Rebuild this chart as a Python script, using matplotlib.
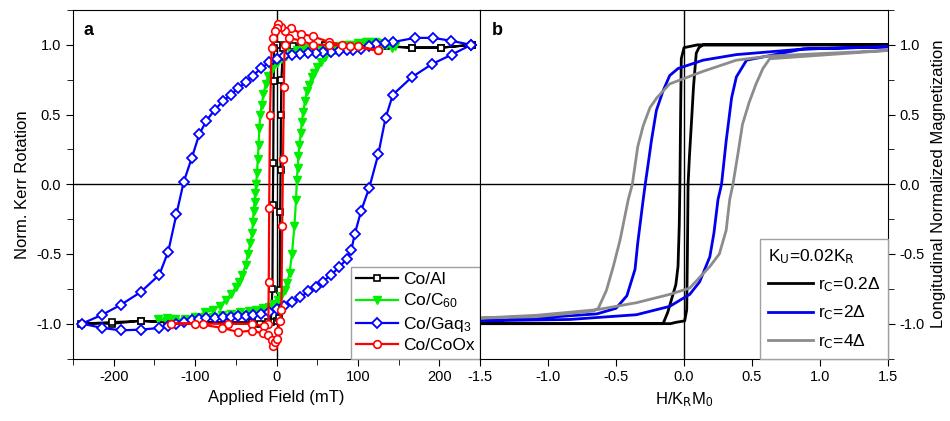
import matplotlib.pyplot as plt
from matplotlib.ticker import MultipleLocator

plt.rcParams['font.family'] = ['Liberation Sans', 'DejaVu Sans']
plt.rcParams['mathtext.default'] = 'regular'
plt.rcParams['axes.unicode_minus'] = False

# ---- panel a: measured loops (field in mT, normalized Kerr rotation) ----
al_H = [240, 202, 167, 130, 95, 60, 30, 10, 0, -3, -3.5, -4, -4.5, -5, -7, -20, -60, -100, -135, -167, -202, -240,
        -202, -167, -130, -95, -60, -30, -10, 0, 3, 4, 4.5, 5, 5.5, 6, 8, 20, 60, 100, 135, 167, 202, 240]
al_M = [1.0, 0.98, 0.98, 0.99, 0.99, 0.99, 0.99, 1.0, 1.0, 0.98, 0.74, 0.15, -0.15, -0.75, -0.99, -1.0, -1.0, -0.99, -0.99, -0.98, -1.0, -1.0,
        -0.99, -0.98, -0.99, -0.99, -0.99, -0.99, -0.99, -0.98, -0.96, -0.76, -0.2, 0.1, 0.5, 0.75, 0.98, 0.99, 1.0, 1.0, 0.99, 0.98, 0.98, 1.0]

c60_H = [145, 135, 125, 115, 105, 95, 85, 75, 65, 55, 45, 35, 25, 18, 12, 6, 0, -5, -10, -13, -16, -18, -20, -21, -22, -23,
         -24, -25, -26, -27, -28, -29, -30, -32, -35, -38, -42, -46, -50, -56, -62, -70, -78, -88, -100, -113, -125, -135, -145,
         -135, -125, -113, -100, -88, -78, -67, -56, -45, -34, -25, -17, -9, -3, 2, 6, 10, 13, 16, 19, 22, 24, 25, 26,
         27, 28, 30, 31, 33, 35, 37.5, 40, 43, 46, 50, 55, 60, 66, 72, 80, 89, 100, 110, 121, 131, 142]
c60_M = [0.99, 1.0, 1.01, 1.02, 1.0, 1.0, 1.0, 0.99, 0.99, 0.98, 0.98, 0.97, 0.96, 0.94, 0.92, 0.9, 0.87, 0.83, 0.78, 0.72, 0.65, 0.57, 0.5, 0.4, 0.28, 0.18,
         0.08, 0.0, -0.06, -0.13, -0.19, -0.27, -0.35, -0.42, -0.5, -0.58, -0.65, -0.7, -0.74, -0.79, -0.83, -0.87, -0.9, -0.92, -0.95, -0.97, -0.97, -0.96, -0.97,
         -0.98, -0.99, -0.98, -0.97, -0.96, -0.95, -0.94, -0.93, -0.92, -0.91, -0.9, -0.89, -0.88, -0.86, -0.83, -0.8, -0.76, -0.71, -0.64, -0.5, -0.3, -0.11, 0.03, 0.12,
         0.2, 0.28, 0.37, 0.45, 0.52, 0.6, 0.67, 0.71, 0.77, 0.8, 0.84, 0.88, 0.91, 0.94, 0.96, 0.98, 1.0, 1.01, 1.02, 1.02, 1.0, 0.98]

gaq_H = [239, 214, 192, 170, 143, 133, 122, 114, 104, 94, 86, 77, 67, 57, 48, 39, 29, 19, 9, 0,
         -9, -19, -29, -38, -47, -56, -66, -76, -86, -95, -104, -114, -123, -133, -144, -167, -191, -214, -239,
         -214, -191, -167, -144, -133, -123, -114, -104, -95, -86, -76, -66, -56, -47, -38, -29, -19, -9, 0,
         9, 19, 29, 39, 48, 57, 67, 77, 86, 92, 96, 104, 114, 125, 134, 143, 166, 191, 215, 239]
gaq_M = [1.0, 1.03, 1.05, 1.05, 1.02, 1.01, 1.005, 0.99, 0.97, 0.964, 0.962, 0.957, 0.952, 0.95, 0.945, 0.94, 0.933, 0.926, 0.917, 0.898,
         0.874, 0.831, 0.779, 0.731, 0.69, 0.643, 0.595, 0.533, 0.457, 0.357, 0.19, 0.017, -0.217, -0.483, -0.65, -0.774, -0.864, -0.936, -1.0,
         -1.031, -1.048, -1.043, -1.031, -1.014, -1.0, -0.99, -0.976, -0.967, -0.96, -0.96, -0.955, -0.952, -0.948, -0.943, -0.94, -0.93, -0.917, -0.895,
         -0.876, -0.848, -0.812, -0.769, -0.738, -0.698, -0.65, -0.595, -0.538, -0.47, -0.36, -0.19, -0.024, 0.214, 0.476, 0.643, 0.767, 0.862, 0.929, 1.0]

coox_H = [125, 100, 80, 65, 45, 30, 18, 10, 5, 2, 0, -2, -4, -6, -8, -9, -9.5, -10, -15, -30, -60, -90, -130,
          -100, -67, -47, -30, -17, -10, -6, -4, -2, 0, 2, 4, 6, 7, 8, 9, 10, 15, 30, 45, 65, 90, 125]
coox_M = [0.96, 0.99, 1.0, 1.02, 1.06, 1.08, 1.12, 1.1, 1.13, 1.15, 1.12, 1.1, 1.05, 0.98, 0.5, -0.17, -0.7, -1.0, -1.02, -1.0, -1.0, -1.0, -1.0,
          -1.0, -1.03, -1.06, -1.05, -1.07, -1.08, -1.12, -1.16, -1.13, -1.11, -1.05, -0.98, -0.9, -0.3, 0.18, 0.7, 1.0, 1.05, 1.03, 1.0, 1.0, 0.99, 0.96]

# ---- panel b: simulated loops (H/KrM0, longitudinal magnetization) ----
r02_H = [1.5, 0.5, 0.14, 0.11, 0.09, 0.07, 0.054, 0.04, 0.03, 0.025, 0.02, 0.005, -0.056, -0.1, -0.5, -1.5,
         -0.5, -0.154, -0.12, -0.06, -0.044, -0.035, -0.03, -0.025, -0.02, 0.0, 0.1, 0.5, 1.5]
r02_M = [1.0, 1.0, 1.0, 0.98, 0.94, 0.7, 0.43, 0.2, 0.0, -0.5, -0.9, -0.98, -0.99, -1.0, -1.0, -1.0,
         -1.0, -1.0, -0.92, -0.72, -0.59, -0.3, 0.0, 0.5, 0.9, 0.98, 1.0, 1.0, 1.0]

r2_H = [1.5, 0.875, 0.46, 0.385, 0.35, 0.31, 0.276, 0.25, 0.22, 0.19, 0.115, 0.042, -0.105, -0.35, -0.84, -1.5,
        -1.085, -0.64, -0.5, -0.42, -0.36, -0.34, -0.30, -0.285, -0.26, -0.24, -0.203, -0.154, -0.105, -0.044, 0.14, 0.385, 0.875, 1.5]
r2_M = [0.986, 0.97, 0.89, 0.77, 0.62, 0.31, 0.0, -0.11, -0.35, -0.52, -0.70, -0.79, -0.876, -0.936, -0.97, -0.98,
        -0.96, -0.93, -0.89, -0.80, -0.61, -0.42, -0.11, 0.0, 0.17, 0.31, 0.53, 0.67, 0.78, 0.83, 0.89, 0.93, 0.97, 0.986]

r4_H = [1.5, 0.63, 0.58, 0.53, 0.48, 0.43, 0.40, 0.36, 0.336, 0.31, 0.26, 0.19, 0.042, -0.105, -0.35, -0.64, -1.085, -1.5,
        -1.085, -0.67, -0.63, -0.57, -0.52, -0.47, -0.41, -0.38, -0.34, -0.30, -0.25, -0.20, -0.105, 0.14, 0.385, 0.63, 1.5]
r4_M = [0.96, 0.90, 0.83, 0.72, 0.59, 0.43, 0.24, 0.0, -0.11, -0.33, -0.50, -0.59, -0.745, -0.79, -0.85, -0.90, -0.94, -0.96,
        -0.95, -0.91, -0.89, -0.76, -0.59, -0.40, -0.11, 0.0, 0.27, 0.42, 0.55, 0.62, 0.72, 0.81, 0.89, 0.92, 0.96]

W, H = 950, 421
fig = plt.figure(figsize=(W / 100, H / 100), dpi=100)
bot = 1 - 358.5 / H
hgt = (358.5 - 10) / H
axa = fig.add_axes([73 / W, bot, (480 - 73) / W, hgt])
axb = fig.add_axes([480 / W, bot, (888 - 480) / W, hgt])

# panel a
axa.plot(al_H, al_M, color='black', lw=1.6, marker='s', ms=4.5, mfc='white', mew=1.2, label='Co/Al')
axa.plot(c60_H, c60_M, color='#00ee00', lw=1.6, marker='v', ms=6, mfc='#00ee00', mec='#00ee00', label='Co/C$_{60}$')
axa.plot(gaq_H, gaq_M, color='#0000ff', lw=1.6, marker='D', ms=5, mfc='white', mew=1.3, label='Co/Gaq$_3$')
axa.plot(coox_H, coox_M, color='#ff0000', lw=1.6, marker='o', ms=5.5, mfc='white', mew=1.2, label='Co/CoOx')
axa.axhline(0, color='black', lw=1, zorder=0)
axa.axvline(0, color='black', lw=1, zorder=0)
axa.set_xlim(-250, 250)
axa.set_ylim(-1.25, 1.25)
axa.set_xticks([-200, -100, 0, 100, 200])
axa.xaxis.set_minor_locator(MultipleLocator(50))
axa.set_yticks([-1.0, -0.5, 0.0, 0.5, 1.0])
axa.set_yticklabels(['-1.0', '-0.5', '0.0', '0.5', '1.0'])
axa.yaxis.set_minor_locator(MultipleLocator(0.25))
axa.tick_params(which='both', direction='out', labelsize=10.5, top=False, right=False)
axa.tick_params(which='major', length=5)
axa.tick_params(which='minor', length=4)
axa.set_xlabel('Applied Field (mT)', fontsize=12)
axa.set_ylabel('Norm. Kerr Rotation', fontsize=12)
axa.text(0.025, 0.94, 'a', transform=axa.transAxes, fontsize=13, fontweight='bold', va='center')
axa.legend(loc='lower right', bbox_to_anchor=(1, 0), borderaxespad=0, fontsize=12.5, fancybox=False,
           edgecolor='#a0a0a0', framealpha=1, handlelength=2.4, labelspacing=0.25, handletextpad=0.3,
           borderpad=0.3)

# panel b
axb.plot(r02_H, r02_M, color='black', lw=2, label=r'r$_\mathrm{C}$=0.2Δ')
axb.plot(r2_H, r2_M, color='#0000ee', lw=2, label=r'r$_\mathrm{C}$=2Δ')
axb.plot(r4_H, r4_M, color='#8c8c8c', lw=2, label=r'r$_\mathrm{C}$=4Δ')
axb.axhline(0, color='black', lw=1, zorder=0)
axb.axvline(0, color='black', lw=1, zorder=0)
axb.set_xlim(-1.5, 1.5)
axb.set_ylim(-1.25, 1.25)
axb.set_xticks([-1.5, -1.0, -0.5, 0.0, 0.5, 1.0, 1.5])
axb.set_xticklabels(['-1.5', '-1.0', '-0.5', '0.0', '0.5', '1.0', '1.5'])
axb.yaxis.tick_right()
axb.yaxis.set_label_position('right')
axb.set_yticks([-1.0, -0.5, 0.0, 0.5, 1.0])
axb.set_yticklabels(['-1.0', '-0.5', '0.0', '0.5', '1.0'])
axb.yaxis.set_minor_locator(MultipleLocator(0.25))
axb.tick_params(which='both', direction='out', labelsize=10.5, top=False, left=False)
axb.tick_params(which='major', length=5)
axb.tick_params(which='minor', length=4)
axb.set_xlabel('H/K$_\\mathrm{R}$M$_0$', fontsize=12)
axb.set_ylabel('Longitudinal Normalized Magnetization', fontsize=12)
axb.text(0.03, 0.94, 'b', transform=axb.transAxes, fontsize=13, fontweight='bold', va='center')
axb.legend(loc='lower right', bbox_to_anchor=(1, 0), borderaxespad=0, fontsize=12.5, fancybox=False,
           edgecolor='#a0a0a0', framealpha=1, handlelength=2.6, labelspacing=0.55, handletextpad=0.3,
           borderpad=0.45, title='K$_\\mathrm{U}$=0.02K$_\\mathrm{R}$', title_fontsize=12.5, alignment='left')

fig.savefig('out.png', dpi=100)
